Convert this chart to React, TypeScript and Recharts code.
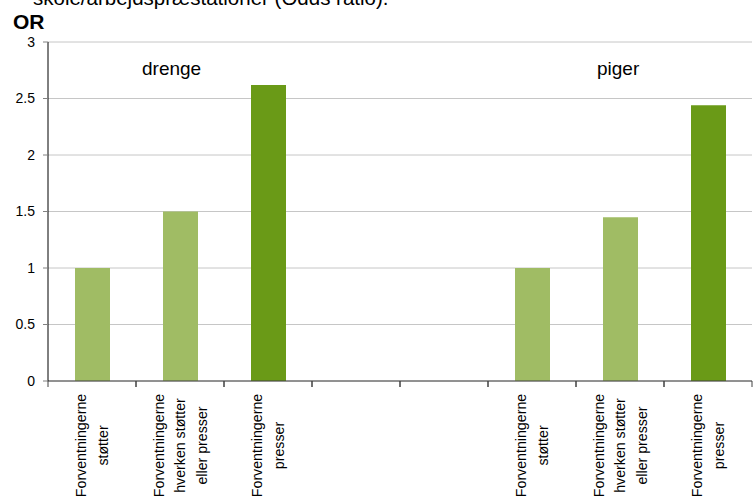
import React from 'react';
import { BarChart, Bar, XAxis, YAxis, CartesianGrid, Cell } from 'recharts';

const categories = ['d1', 'd2', 'd3', 'gap1', 'gap2', 'p1', 'p2', 'p3'];
const tickLabels = [
  ['Forventningerne', 'støtter'],
  ['Forventningerne', 'hverken støtter', 'eller presser'],
  ['Forventningerne', 'presser'],
  [],
  [],
  ['Forventningerne', 'støtter'],
  ['Forventningerne', 'hverken støtter', 'eller presser'],
  ['Forventningerne', 'presser'],
];
const orValues = [1.0, 1.5, 2.62, null, null, 1.0, 1.45, 2.44];
const barColors = ['#A0BC64', '#A0BC64', '#6A9A17', '#A0BC64', '#A0BC64', '#A0BC64', '#A0BC64', '#6A9A17'];
const yTicks = [0, 0.5, 1, 1.5, 2, 2.5, 3];

const W = 754;
const H = 500;
const PLOT_LEFT = 48;
const PLOT_RIGHT = 2;
const BAND = (W - PLOT_LEFT - PLOT_RIGHT) / categories.length;
const FONT = '"Liberation Sans", Arial, sans-serif';

const data = categories.map((c, i) => ({ cat: c, value: orValues[i] }));

const XTick = (props: any) => {
  const { x, y, payload } = props;
  const lines = tickLabels[payload.index] || [];
  const lineGap = 21.5;
  // centre of the rotated text block, below the axis
  const cy = y + 64.5;
  const first = 5 - ((lines.length - 1) * lineGap) / 2;
  return (
    <g>
      <line x1={x - BAND / 2} y1={y} x2={x - BAND / 2} y2={y + 6} stroke="#404040" />
      <line x1={x + BAND / 2} y1={y} x2={x + BAND / 2} y2={y + 6} stroke="#404040" />
      <g transform={`translate(${x},${cy}) rotate(-90)`}>
        {lines.map((l: string, i: number) => (
          <text
            key={i}
            x={0}
            y={first + i * lineGap}
            textAnchor="middle"
            fontSize={14.2}
            fontFamily={FONT}
            fill="#000"
          >
            {l}
          </text>
        ))}
      </g>
    </g>
  );
};

export default function App() {
  return (
    <div
      style={{
        position: 'absolute',
        left: 0,
        top: 0,
        width: W,
        height: H,
        overflow: 'hidden',
        background: '#fff',
        fontFamily: FONT,
      }}
    >
      <BarChart
        width={W}
        height={H}
        data={data}
        margin={{ top: 42, right: PLOT_RIGHT, left: 0, bottom: 0 }}
        barSize={35}
      >
        <CartesianGrid vertical={false} stroke="#C6C6C6" />
        <XAxis
          dataKey="cat"
          interval={0}
          height={119}
          tickSize={0}
          tickMargin={0}
          tickLine={false}
          axisLine={{ stroke: '#404040' }}
          tick={<XTick />}
        />
        <YAxis
          width={PLOT_LEFT}
          domain={[0, 3]}
          ticks={yTicks}
          tickSize={5}
          tickMargin={8}
          axisLine={{ stroke: '#000' }}
          tickLine={{ stroke: '#808080' }}
          tick={{ fontSize: 14, fill: '#000', fontFamily: FONT }}
        />
        <Bar dataKey="value" isAnimationActive={false}>
          {data.map((d, i) => (
            <Cell key={d.cat} fill={barColors[i]} />
          ))}
        </Bar>
      </BarChart>
      <svg
        width={W}
        height={H}
        style={{ position: 'absolute', left: 0, top: 0, pointerEvents: 'none' }}
      >
        <text x={33} y={5} fontSize={20.5} fontFamily={FONT} fill="#000">
          skole/arbejdspræstationer (Odds ratio).
        </text>
        <text x={13} y={29} fontSize={21} fontWeight="bold" fontFamily={FONT} fill="#000">
          OR
        </text>
        <text x={142} y={75} fontSize={19} fontFamily={FONT} fill="#000">
          drenge
        </text>
        <text x={597} y={75} fontSize={19} fontFamily={FONT} fill="#000">
          piger
        </text>
      </svg>
    </div>
  );
}
